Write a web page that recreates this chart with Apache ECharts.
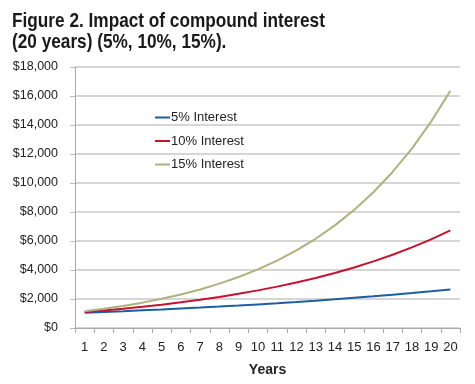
<!DOCTYPE html>
<html><head><meta charset="utf-8">
<script src="https://cdn.jsdelivr.net/npm/echarts@6/dist/echarts.min.js"></script>
<style>html,body{margin:0;padding:0;background:#fff}#c{width:475px;height:384px}</style>
</head><body><div id="c"></div>
<script>
const years = ['1','2','3','4','5','6','7','8','9','10','11','12','13','14','15','16','17','18','19','20'];
const interest5 = [1050,1103,1158,1216,1276,1340,1407,1477,1551,1629,1710,1796,1886,1980,2079,2183,2292,2407,2527,2653];
const interest10 = [1100,1210,1331,1464,1611,1772,1949,2144,2358,2594,2853,3138,3452,3797,4177,4595,5054,5560,6116,6727];
const interest15 = [1150,1323,1521,1749,2011,2313,2660,3059,3518,4046,4652,5350,6153,7076,8137,9358,10761,12375,14232,16367];
const yTicks = [0,2000,4000,6000,8000,10000,12000,14000,16000,18000];
const titleLines = ['Figure 2. Impact of compound interest','(20 years) (5%, 10%, 15%).'];
const FONT = "'Liberation Sans Narrow','Liberation Sans',Arial,sans-serif";
const chart = echarts.init(document.getElementById('c'));
chart.setOption({
  animation:false,
  graphic:[{type:'text',left:12,top:10,scaleX:0.82,originX:0,
    style:{text:titleLines.join('\n'),font:"bold 21px 'Liberation Sans',Arial,sans-serif",lineHeight:21.5,fill:'#1a1a1a'}}],
  legend:{orient:'vertical',left:150,top:106,itemWidth:15,itemHeight:2,itemGap:10.5,icon:'rect',
    textStyle:{fontFamily:FONT,fontSize:13,color:'#222',padding:[0,0,0,-4]},
    data:['5% Interest','10% Interest','15% Interest']},
  grid:{left:75,right:15,top:67,bottom:56},
  xAxis:{type:'category',data:years,boundaryGap:true,name:'Years',nameLocation:'middle',nameGap:35,
    nameTextStyle:{fontFamily:FONT,fontWeight:'bold',fontSize:14,color:'#222'},
    axisLine:{lineStyle:{color:'#aaa',width:1}},
    axisTick:{show:true,length:5,interval:0,lineStyle:{color:'#aaa'}},
    axisLabel:{fontFamily:FONT,fontSize:13,color:'#222',margin:13,interval:0}},
  yAxis:{type:'value',min:yTicks[0],max:yTicks[yTicks.length-1],interval:2000,
    axisLine:{show:true,lineStyle:{color:'#aaa',width:1}},
    axisTick:{show:true,length:5,lineStyle:{color:'#bbb'}},
    splitLine:{lineStyle:{color:'#c9c9c9',width:1.5}},
    axisLabel:{fontFamily:FONT,fontSize:12.5,color:'#222',margin:17,
      formatter:v=>'$'+v.toLocaleString('en-US')}},
  series:[
    {name:'5% Interest',type:'line',data:interest5,showSymbol:false,lineStyle:{width:2,color:'#1a5fa3'},itemStyle:{color:'#1a5fa3'}},
    {name:'10% Interest',type:'line',data:interest10,showSymbol:false,lineStyle:{width:2,color:'#c4122f'},itemStyle:{color:'#c4122f'}},
    {name:'15% Interest',type:'line',data:interest15,showSymbol:false,lineStyle:{width:2,color:'#adb27e'},itemStyle:{color:'#adb27e'}}
  ]
});
</script></body></html>
